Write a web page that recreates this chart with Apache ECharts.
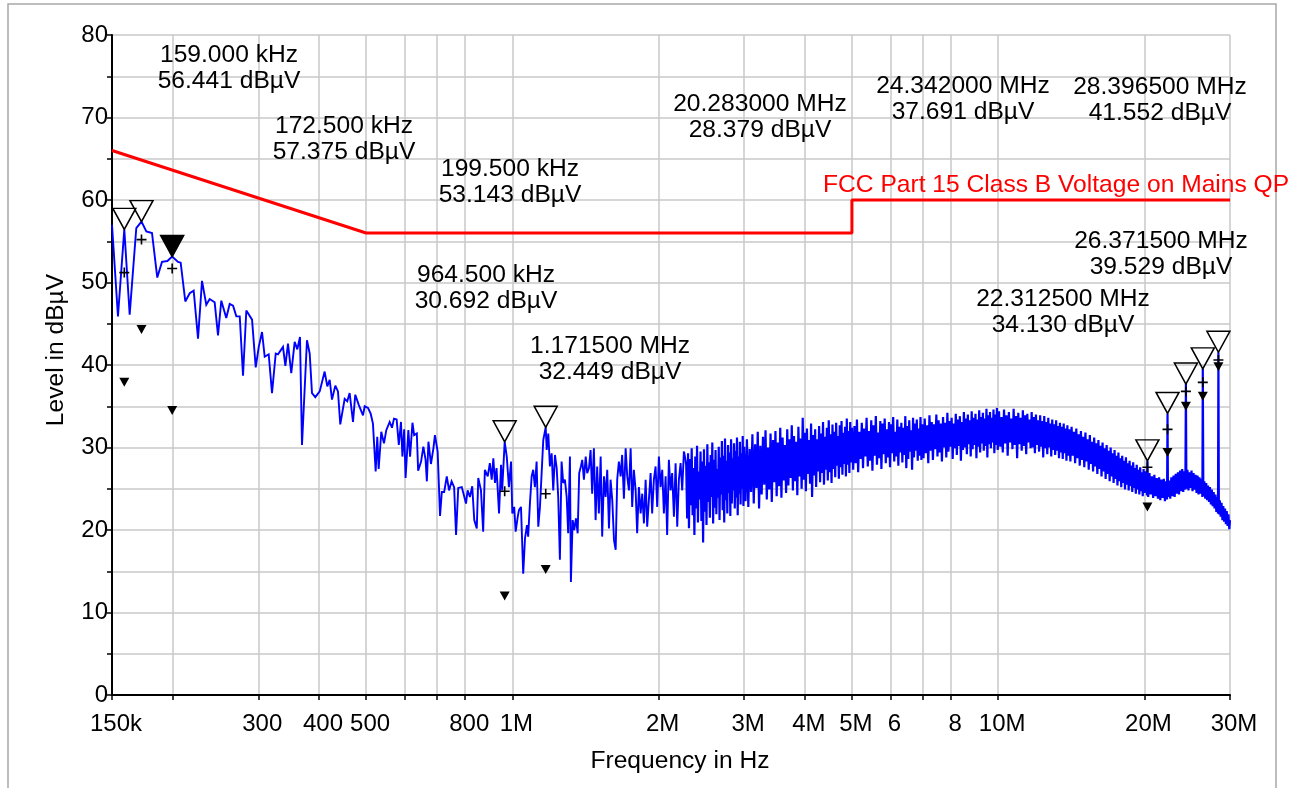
<!DOCTYPE html>
<html>
<head>
<meta charset="utf-8">
<script src="https://cdn.jsdelivr.net/npm/echarts@6/dist/echarts.min.js"></script>
<style>
  html, body { margin: 0; padding: 0; background: #ffffff; }
  #chart { width: 1299px; height: 788px; }
</style>
</head>
<body>
<div id="chart"></div>
<script>
// ---- Axis ticks (frequency in MHz) ----
const tickFreqs  = [0.15, 0.2, 0.3, 0.4, 0.5, 0.6, 0.7, 0.8, 1, 2, 3, 4, 5, 6, 7, 8, 10, 20, 30];
const tickLabels = ['150k', '', '300', '400', '500', '', '', '800', '1M', '2M', '3M', '4M', '5M', '6', '', '8', '10M', '20M', '30M'];

// ---- FCC Part 15 Class B QP limit (MHz, dBµV) ----
const limitFreq  = [0.15, 0.5, 5, 5, 30];
const limitLevel = [66, 56, 56, 60, 60];

// ---- Measured spectrum (MHz, dBµV) ----
const sweep150kTo580k = [
  [0.150,57.0],[0.1543,45.9],[0.159,56.44],[0.1631,46.1],[0.1683,56.6],[0.1725,57.38],[0.1765,56.2],[0.1813,56.0],
  [0.1859,50.6],[0.1901,52.5],[0.195,52.6],[0.1995,53.14],[0.2051,52.5],[0.2077,52.4],[0.2123,47.7],[0.2168,48.7],
  [0.2209,49.0],[0.2255,43.2],[0.2298,50.2],[0.2345,47.3],[0.2383,48.0],[0.244,47.6],[0.2479,43.6],[0.2518,47.8],
  [0.2578,45.7],[0.262,47.4],[0.2662,47.2],[0.2704,45.9],[0.2748,45.9],[0.2791,38.7],[0.2835,46.6],[0.2913,45.5],
  [0.2964,39.7],[0.3007,42.2],[0.3054,44.0],[0.3093,41.0],[0.3152,41.3],[0.3202,36.6],[0.3259,41.4],[0.3294,41.3],
  [0.3373,42.2],[0.3411,39.9],[0.3454,42.6],[0.3508,39.0],[0.3565,42.8],[0.361,41.9],[0.3656,43.4],[0.3691,30.3],
  [0.3779,43.0],[0.3828,41.4],[0.387,36.6],[0.3931,36.1],[0.4014,36.8],[0.4109,39.2],[0.4161,37.4],[0.4208,38.2],
  [0.4255,35.8],[0.4322,37.5],[0.4377,36.8],[0.4425,32.8],[0.4518,35.9],[0.4574,35.6],[0.4626,36.6],[0.470,33.1],
  [0.4751,36.4],[0.4828,35.2],[0.4928,33.9],[0.4968,35.0],[0.5046,34.8],[0.5111,34.1],[0.5166,32.9],[0.5233,27.1],
  [0.5273,31.3],[0.5308,27.4],[0.5374,31.9],[0.5443,30.5],[0.5503,32.1],[0.5592,33.1],[0.5654,32.4],[0.5708,33.5]
];
const sweep580kTo2M3 = [
  [0.578,33.4],[0.584,30.3],[0.590,33.1],[0.594,28.9],[0.599,32.2],[0.603,26.3],[0.611,32.1],[0.616,28.9],
  [0.623,33.0],[0.628,31.5],[0.636,31.7],[0.640,27.2],[0.649,28.3],[0.656,30.1],[0.663,28.5],[0.667,25.9],
  [0.672,30.7],[0.680,28.0],[0.688,29.9],[0.693,31.5],[0.702,29.5],[0.710,21.7],[0.716,24.6],[0.724,24.6],
  [0.733,26.5],[0.741,24.8],[0.750,25.9],[0.759,25.2],[0.766,19.4],[0.774,25.1],[0.787,25.2],[0.795,24.2],
  [0.803,23.2],[0.809,24.8],[0.818,24.0],[0.827,25.3],[0.835,21.2],[0.845,20.2],[0.851,26.3],[0.862,24.8],
  [0.871,19.8],[0.878,27.3],[0.890,26.5],[0.899,28.1],[0.907,26.1],[0.914,28.7],[0.921,25.7],[0.928,27.5],
  [0.939,22.0],[0.948,27.9],[0.953,24.8],[0.9645,30.69],[0.974,28.9],[0.984,25.2],[0.994,28.3],[1.000,22.0],
  [1.009,22.8],[1.016,19.8],[1.026,21.6],[1.032,22.4],[1.042,22.8],[1.053,14.7],[1.062,19.0],[1.072,20.6],
  [1.078,19.2],[1.087,23.2],[1.096,26.5],[1.104,27.3],[1.113,25.2],[1.122,28.3],[1.131,20.4],[1.140,22.8],
  [1.149,22.6],[1.158,30.9],[1.1715,32.45],[1.177,29.7],[1.186,31.7],[1.195,27.7],[1.205,29.3],[1.214,24.8],
  [1.224,29.1],[1.234,27.5],[1.243,24.0],[1.253,16.4],[1.263,28.3],[1.273,25.7],[1.283,26.1],[1.294,24.0],
  [1.303,19.6],[1.314,28.9],[1.320,13.7],[1.331,21.2],[1.341,20.0],[1.352,21.4],[1.363,19.6],[1.373,26.9],
  [1.384,27.7],[1.393,28.5],[1.404,26.1],[1.416,28.9],[1.426,26.9],[1.438,27.5],[1.449,29.7],[1.460,24.4],
  [1.472,29.9],[1.484,21.2],[1.495,27.7],[1.507,22.0],[1.520,28.9],[1.531,19.2],[1.544,26.5],[1.556,24.0],
  [1.568,27.3],[1.581,20.2],[1.593,26.1],[1.606,23.6],[1.619,18.8],[1.632,17.6],[1.644,26.1],[1.657,28.3],
  [1.671,26.5],[1.683,29.1],[1.697,23.8],[1.711,29.9],[1.724,26.5],[1.738,24.8],[1.752,29.9],[1.765,22.8],
  [1.779,27.3],[1.794,24.8],[1.807,19.6],[1.822,25.2],[1.837,22.0],[1.851,24.4],[1.866,20.8],[1.881,26.1],
  [1.895,20.4],[1.910,23.6],[1.926,26.9],[1.940,22.0],[1.956,26.1],[1.972,27.7],[1.987,22.8],[2.003,28.9],
  [2.019,25.2],[2.035,27.3],[2.051,22.0],[2.068,26.5],[2.083,19.4],[2.100,28.5],[2.117,24.8],[2.133,26.9],
  [2.151,21.6],[2.168,28.1],[2.185,20.4],[2.202,26.1],[2.220,28.1],[2.237,24.8],[2.255,29.5]
];
const sweep2M3To3M = [
  [2.28,27.9],[2.29,21.4],[2.30,29.3],[2.31,20.2],[2.32,28.6],[2.33,23.0],[2.34,29.9],[2.35,21.8],
  [2.36,27.5],[2.37,19.4],[2.38,28.9],[2.39,22.6],[2.40,30.2],[2.41,20.9],[2.42,27.1],[2.43,23.7],
  [2.44,29.5],[2.45,21.1],[2.46,28.3],[2.47,18.5],[2.48,29.8],[2.49,22.2],[2.50,27.8],[2.51,20.6],
  [2.52,30.4],[2.53,23.4],[2.54,28.2],[2.55,21.5],[2.56,29.1],[2.57,24.0],[2.58,30.6],[2.59,20.8],
  [2.60,28.5],[2.61,22.7],[2.62,29.7],[2.63,21.9],[2.64,27.4],[2.65,23.9],[2.66,30.1],[2.67,21.2],
  [2.68,28.8],[2.69,24.3],[2.70,30.8],[2.71,22.4],[2.72,29.0],[2.73,20.9],[2.74,31.1],[2.75,23.6],
  [2.76,28.4],[2.77,22.0],[2.78,30.3],[2.79,24.5],[2.80,29.4],[2.81,21.7],[2.82,31.0],[2.83,23.2],
  [2.84,28.7],[2.85,24.8],[2.86,30.5],[2.87,22.6],[2.88,29.6],[2.89,23.9],[2.90,31.2],[2.91,21.8],
  [2.92,28.9],[2.93,24.4],[2.94,30.7],[2.95,23.1],[2.96,29.3],[2.97,25.0],[2.98,31.4],[2.99,22.9],
  [3.00,30.1]
];
const sweep3MTo5M = [
  [3.02,23.5],[3.04,31.0],[3.06,22.8],[3.08,29.8],[3.10,24.6],[3.12,31.6],[3.14,23.2],[3.16,30.4],
  [3.18,25.1],[3.20,31.9],[3.22,22.6],[3.24,30.2],[3.26,24.3],[3.28,31.3],[3.30,25.5],[3.32,32.1],
  [3.34,23.7],[3.36,30.0],[3.38,24.9],[3.40,31.7],[3.42,23.4],[3.44,30.9],[3.46,25.8],[3.48,32.0],
  [3.50,24.1],[3.52,30.6],[3.54,25.3],[3.56,32.4],[3.58,23.9],[3.60,31.2],[3.62,26.0],[3.64,30.3],
  [3.66,24.5],[3.68,32.2],[3.70,25.4],[3.72,31.0],[3.74,26.3],[3.76,32.7],[3.78,24.8],[3.80,31.4],
  [3.82,25.9],[3.84,30.7],[3.86,24.2],[3.88,32.5],[3.90,26.5],[3.92,31.1],[3.94,25.0],[3.96,33.6],
  [3.98,26.1],[4.00,31.8],[4.02,24.7],[4.04,32.3],[4.06,26.8],[4.08,30.9],[4.10,25.6],[4.12,32.9],
  [4.14,24.0],[4.16,31.5],[4.18,26.6],[4.20,32.2],[4.22,25.2],[4.24,31.0],[4.26,27.1],[4.28,32.6],
  [4.30,25.8],[4.32,31.7],[4.34,26.9],[4.36,33.1],[4.38,25.5],[4.40,31.3],[4.42,27.3],[4.44,32.4],
  [4.46,26.0],[4.48,33.3],[4.50,27.0],[4.52,31.6],[4.54,25.7],[4.56,32.8],[4.58,27.4],[4.60,31.9],
  [4.62,26.4],[4.64,33.0],[4.66,27.8],[4.68,31.4],[4.70,26.2],[4.72,32.7],[4.74,27.6],[4.76,33.2],
  [4.78,26.7],[4.80,31.8],[4.82,28.0],[4.84,32.5],[4.86,26.5],[4.88,33.5],[4.90,27.9],[4.92,32.0],
  [4.94,26.9],[4.96,33.1],[4.98,28.2],[5.00,32.4]
];
const sweep5MTo7M = [
  [5.03,27.3],[5.06,32.6],[5.09,28.1],[5.12,33.4],[5.15,27.0],[5.18,31.9],[5.21,28.6],[5.24,33.0],
  [5.27,27.5],[5.30,32.3],[5.33,28.9],[5.36,33.6],[5.39,27.7],[5.42,32.0],[5.45,28.4],[5.48,33.3],
  [5.51,27.2],[5.54,32.7],[5.57,29.0],[5.60,33.8],[5.63,27.9],[5.66,31.8],[5.69,28.7],[5.72,33.2],
  [5.75,27.4],[5.78,32.9],[5.81,29.2],[5.84,33.5],[5.87,28.1],[5.90,32.2],[5.93,28.8],[5.96,33.1],
  [5.99,27.6],[6.02,32.8],[6.05,29.3],[6.08,33.7],[6.11,28.3],[6.14,31.9],[6.17,28.9],[6.20,33.4],
  [6.23,27.8],[6.26,32.5],[6.29,29.4],[6.32,33.0],[6.35,28.2],[6.38,32.4],[6.41,29.1],[6.44,33.8],
  [6.47,27.5],[6.50,32.6],[6.53,28.6],[6.56,33.3],[6.59,29.5],[6.62,32.1],[6.65,27.3],[6.68,33.6],
  [6.71,28.8],[6.74,32.9],[6.77,29.6],[6.80,33.4],[6.83,28.4],[6.86,32.3],[6.89,29.0],[6.92,33.7],
  [6.95,28.5],[6.98,32.8]
];
const sweep7MTo10M = [
  [7.02,28.7],[7.06,33.5],[7.10,29.3],[7.14,32.7],[7.18,28.1],[7.22,33.9],[7.26,29.6],[7.30,33.1],
  [7.34,28.5],[7.38,32.8],[7.42,29.8],[7.46,34.0],[7.50,28.9],[7.54,33.3],[7.58,29.4],[7.62,32.9],
  [7.66,28.3],[7.70,33.7],[7.74,30.0],[7.78,33.0],[7.82,28.8],[7.86,34.2],[7.90,29.5],[7.94,33.2],
  [7.98,30.1],[8.02,33.6],[8.06,28.6],[8.10,32.9],[8.14,29.9],[8.18,34.1],[8.22,29.1],[8.26,33.4],
  [8.30,30.2],[8.34,33.8],[8.38,28.4],[8.42,33.1],[8.46,29.7],[8.50,34.3],[8.54,30.0],[8.58,33.5],
  [8.62,29.2],[8.66,34.0],[8.70,30.4],[8.74,33.3],[8.78,28.9],[8.82,34.4],[8.86,29.8],[8.90,33.6],
  [8.94,30.3],[8.98,34.1],[9.02,28.7],[9.06,33.4],[9.10,30.1],[9.14,34.5],[9.18,29.4],[9.22,33.7],
  [9.26,30.5],[9.30,34.2],[9.34,29.6],[9.38,33.5],[9.42,30.2],[9.46,34.7],[9.50,28.8],[9.54,33.9],
  [9.58,30.4],[9.62,34.3],[9.66,29.9],[9.70,33.6],[9.74,30.6],[9.78,34.6],[9.82,29.3],[9.86,34.0],
  [9.90,30.3],[9.94,34.8],[9.98,29.7]
];
const sweep10MTo14M = [
  [10.04,34.4],[10.10,30.1],[10.16,33.7],[10.22,29.4],[10.28,34.6],[10.34,30.5],[10.40,33.9],[10.46,29.0],
  [10.52,34.3],[10.58,30.6],[10.64,33.5],[10.70,29.8],[10.76,34.7],[10.82,30.3],[10.88,33.8],[10.94,28.7],
  [11.00,34.2],[11.06,30.4],[11.12,33.6],[11.18,29.6],[11.24,34.5],[11.30,30.2],[11.36,33.9],[11.42,29.2],
  [11.48,34.1],[11.54,30.6],[11.60,33.4],[11.66,29.9],[11.72,34.3],[11.78,30.0],[11.84,33.7],[11.90,29.3],
  [11.96,34.0],[12.02,30.3],[12.08,33.3],[12.14,29.5],[12.20,33.9],[12.26,30.1],[12.32,33.2],[12.38,28.8],
  [12.44,33.8],[12.50,29.9],[12.56,33.1],[12.62,29.2],[12.68,33.6],[12.74,30.0],[12.80,32.9],[12.86,28.9],
  [12.92,33.4],[12.98,29.7],[13.04,32.8],[13.10,29.1],[13.16,33.3],[13.22,29.6],[13.28,32.6],[13.34,28.7],
  [13.40,33.0],[13.46,29.4],[13.52,32.5],[13.58,28.6],[13.64,32.9],[13.70,29.3],[13.76,32.3],[13.82,28.4],
  [13.88,32.7],[13.94,29.0],[14.00,32.2]
];
const sweep14MTo20M = [
  [14.08,28.3],[14.16,32.5],[14.24,29.0],[14.32,31.9],[14.40,28.1],[14.48,32.3],[14.56,28.7],[14.64,31.6],
  [14.72,27.8],[14.80,32.0],[14.88,28.5],[14.96,31.3],[15.04,27.6],[15.12,31.8],[15.20,28.3],[15.28,31.0],
  [15.36,27.3],[15.44,31.5],[15.52,28.0],[15.60,30.7],[15.68,27.1],[15.76,31.2],[15.84,27.7],[15.92,30.5],
  [16.00,26.8],[16.08,30.9],[16.16,27.4],[16.24,30.2],[16.32,26.5],[16.40,30.6],[16.48,27.1],[16.56,29.9],
  [16.64,26.2],[16.72,30.3],[16.80,26.8],[16.88,29.6],[16.96,25.9],[17.04,30.0],[17.12,26.5],[17.20,29.3],
  [17.28,25.7],[17.36,29.7],[17.44,26.2],[17.52,29.0],[17.60,25.4],[17.68,29.4],[17.76,25.9],[17.84,28.7],
  [17.92,25.2],[18.00,29.0],[18.08,25.7],[18.16,28.4],[18.24,24.9],[18.32,28.8],[18.40,25.5],[18.48,28.1],
  [18.56,24.8],[18.64,28.4],[18.72,25.3],[18.80,27.8],[18.88,24.6],[18.96,28.2],[19.04,25.1],[19.12,27.5],
  [19.20,24.4],[19.28,27.9],[19.36,24.9],[19.44,27.3],[19.52,24.3],[19.60,27.6],[19.68,24.7],[19.76,27.0],
  [19.84,24.1],[19.92,27.4],[20.00,24.5]
];
const sweep20MTo30M = [
  [20.12,27.1],[20.24,24.2],[20.283,28.38],[20.36,24.0],[20.48,26.9],[20.60,24.3],[20.72,26.5],[20.84,23.9],
  [20.96,26.7],[21.08,24.1],[21.20,26.3],[21.32,23.8],[21.44,26.4],[21.56,23.6],[21.68,26.1],[21.80,23.9],
  [21.92,26.2],[22.04,23.5],[22.16,25.9],[22.26,23.7],[22.3125,34.13],[22.36,24.0],[22.48,26.0],[22.60,23.8],
  [22.72,26.4],[22.84,24.1],[22.96,26.6],[23.08,24.0],[23.20,26.8],[23.32,24.4],[23.44,27.0],[23.56,24.3],
  [23.68,27.2],[23.80,24.7],[23.92,27.4],[24.04,24.6],[24.16,27.1],[24.28,24.9],[24.342,37.69],[24.40,25.0],
  [24.52,27.3],[24.64,24.8],[24.76,27.0],[24.88,25.1],[25.00,27.2],[25.12,24.7],[25.24,26.9],[25.36,24.9],
  [25.48,26.7],[25.60,24.5],[25.72,26.6],[25.84,24.3],[25.96,26.4],[26.08,24.4],[26.20,26.2],[26.32,24.0],
  [26.3715,39.53],[26.44,24.1],[26.56,25.9],[26.68,23.8],[26.80,25.7],[26.92,23.6],[27.04,25.4],[27.16,23.4],
  [27.28,25.2],[27.40,23.1],[27.52,24.9],[27.64,22.9],[27.76,24.6],[27.88,22.6],[28.00,24.3],[28.12,22.2],
  [28.24,24.0],[28.34,22.0],[28.3965,41.55],[28.46,21.9],[28.58,23.6],[28.70,21.6],[28.82,23.3],[28.94,21.2],
  [29.06,22.9],[29.18,21.0],[29.30,22.6],[29.42,20.7],[29.54,22.3],[29.66,20.5],[29.78,21.9],[29.90,20.1],
  [30.00,21.2]
];

// ---- Peak list (kHz, dBµV) with quasi-peak and average readings ----
const peakKHz   = [159.0, 172.5, 199.5, 964.5, 1171.5, 20283.0, 22312.5, 24342.0, 26371.5, 28396.5];
const peakLevel = [56.441, 57.375, 53.143, 30.692, 32.449, 28.379, 34.130, 37.691, 39.529, 41.552];
const qpLevel   = [51.2, 55.2, 51.7, 24.7, 24.4, 27.6, 32.2, 36.8, 37.9, 40.6];
const avgLevel  = [37.9, 44.3, 34.5, 12.0, 15.2, 22.8, 29.4, 35.0, 36.2, 39.8];
const selectedPeak = 2;

// ---- Layout ----
const FONT = "'Liberation Sans', Arial, Helvetica, sans-serif";
const FS = 24;
const FS_TEXT = 24.6;
const peakLabelPos = [[229,55],[344,126],[510,169],[486,275],[610,346],[760,104],[1063,299],[963,86],[1161,241],[1160,87]];

const lg = Math.log10;
const toXY = p => [lg(p[0]), p[1]];
// Sparse part of the sweep drawn with a fine pen, the dense band with a heavier one
const traceLow  = [].concat(sweep150kTo580k, sweep580kTo2M3).map(toXY);
const traceHigh = [sweep580kTo2M3[sweep580kTo2M3.length - 1]]
  .concat(sweep2M3To3M, sweep3MTo5M, sweep5MTo7M, sweep7MTo10M, sweep10MTo14M, sweep14MTo20M, sweep20MTo30M)
  .map(toXY);
const limit = limitFreq.map((f, i) => [lg(f), limitLevel[i]]);

function fmtPeak(kHz, lvl) {
  const f = kHz < 1000 ? kHz.toFixed(3) + ' kHz' : (kHz / 1000).toFixed(6) + ' MHz';
  return f + '\n' + lvl.toFixed(3) + ' dBµV';
}

const chart = echarts.init(document.getElementById('chart'), null, { renderer: 'canvas' });

const labelledTicks = tickFreqs.filter((f, i) => tickLabels[i] !== '').map(lg);

const graphics = [
  { type: 'rect', shape: { x: 8, y: 4, width: 1268, height: 800 }, style: { fill: 'none', stroke: '#a8a8a8', lineWidth: 1.5 }, z: 0, silent: true },
  { type: 'text', x: 56, y: 350, rotation: Math.PI / 2, style: { text: 'Level in dBµV', font: FS_TEXT + 'px ' + FONT, fill: '#000', align: 'center', verticalAlign: 'middle' } },
  { type: 'text', x: 680, y: 761, style: { text: 'Frequency in Hz', font: FS_TEXT + 'px ' + FONT, fill: '#000', align: 'center', verticalAlign: 'middle' } },
  { type: 'text', x: 823, y: 185, style: { text: 'FCC Part 15 Class B Voltage on Mains QP', font: FS_TEXT + 'px ' + FONT, fill: '#ff0000', align: 'left', verticalAlign: 'middle' }, z: 10 }
];
peakKHz.forEach((k, i) => {
  graphics.push({
    type: 'text', x: peakLabelPos[i][0], y: peakLabelPos[i][1] - 13,
    style: { text: fmtPeak(k, peakLevel[i]), font: FS_TEXT + 'px ' + FONT, fill: '#000', align: 'center', verticalAlign: 'top', lineHeight: 26 },
    z: 10
  });
});

const option = {
  animation: false,
  backgroundColor: '#ffffff',
  grid: { left: 112, top: 35, right: 69, bottom: 93, containLabel: false, outerBoundsMode: 'none' },
  xAxis: {
    type: 'value',
    min: lg(0.15), max: lg(30),
    axisLine: { show: true, onZero: false, lineStyle: { color: '#000', width: 2 } },
    axisTick: { show: true, length: 5, inside: false, lineStyle: { color: '#000', width: 1.5 }, customValues: tickFreqs.map(lg) },
    splitLine: { show: true, lineStyle: { color: '#c8c8c8', width: 1.5 } },
    axisLabel: {
      customValues: labelledTicks,
      margin: 17, padding: [0, 0, 0, 8],
      fontFamily: FONT, fontSize: FS, color: '#000',
      formatter: v => {
        const i = tickFreqs.findIndex(f => Math.abs(lg(f) - v) < 1e-6);
        return i >= 0 ? tickLabels[i] : '';
      }
    }
  },
  yAxis: {
    type: 'value', min: 0, max: 80, interval: 5,
    axisLine: { show: true, onZero: false, lineStyle: { color: '#000', width: 2 } },
    axisTick: { show: true, length: 5, lineStyle: { color: '#000', width: 1.5 } },
    splitLine: { show: true, lineStyle: { color: '#c8c8c8', width: 1.5 } },
    axisLabel: {
      margin: 4, fontFamily: FONT, fontSize: FS, color: '#000',
      formatter: v => (v % 10 === 0 ? String(v) : '')
    }
  },
  series: [
    {
      name: 'Spectrum', type: 'line', data: traceLow, showSymbol: false, symbol: 'none',
      lineStyle: { color: '#0000ff', width: 1.9, join: 'miter', miterLimit: 3 }, z: 2, sampling: null, silent: true
    },
    {
      name: 'Spectrum band', type: 'line', data: traceHigh, showSymbol: false, symbol: 'none',
      lineStyle: { color: '#0000ff', width: 2.2, join: 'miter', miterLimit: 3 }, z: 2, sampling: null, silent: true
    },
    {
      name: 'Limit', type: 'line', data: limit, showSymbol: false, symbol: 'none',
      lineStyle: { color: '#ff0000', width: 3 }, z: 3, silent: true
    },
    {
      name: 'Peaks', type: 'scatter', z: 6, silent: true,
      symbol: 'path://M0,0L24,0L12,22Z', symbolSize: [23, 21], symbolOffset: [0, -10.5],
      itemStyle: { color: 'rgba(0,0,0,0)', borderColor: '#000', borderWidth: 1.5, opacity: 1 },
      data: peakKHz.map((k, i) => ({
        value: [lg(k / 1000), peakLevel[i]],
        itemStyle: i === selectedPeak ? { color: '#000' } : undefined
      }))
    },
    {
      name: 'QP', type: 'scatter', z: 6, silent: true,
      symbol: 'path://M5,0L5,10M0,5L10,5', symbolSize: 10,
      itemStyle: { color: 'none', borderColor: '#000', borderWidth: 1.6, opacity: 1 },
      data: peakKHz.map((k, i) => [lg(k / 1000), qpLevel[i]])
    },
    {
      name: 'AV', type: 'scatter', z: 6, silent: true,
      symbol: 'path://M0,0L10,0L5,9Z', symbolSize: [10, 9],
      itemStyle: { color: '#000', opacity: 1 },
      data: peakKHz.map((k, i) => [lg(k / 1000), avgLevel[i]])
    }
  ],
  graphic: graphics
};
chart.setOption(option);
</script>
</body>
</html>
